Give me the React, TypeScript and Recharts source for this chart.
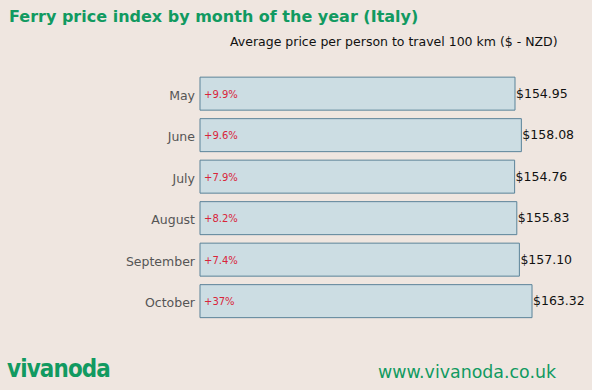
import { BarChart, Bar, XAxis, YAxis, LabelList } from 'recharts';

const months = ['May', 'June', 'July', 'August', 'September', 'October'];
const prices = [154.95, 158.08, 154.76, 155.83, 157.1, 163.32];
const changes = ['+9.9%', '+9.6%', '+7.9%', '+8.2%', '+7.4%', '+37%'];

const data = months.map((month, i) => ({ month, price: prices[i], change: changes[i] }));

const GREEN = '#119a61';
const FONT = '"DejaVu Sans", Verdana, sans-serif';

const PriceLabel = (props: any) => {
  const { x, y, width, height, value } = props;
  return (
    <text x={x + width + 1} y={y + height / 2} dy={4} fontSize={12.5} fill="#111" fontFamily={FONT}>
      ${Number(value).toFixed(2)}
    </text>
  );
};

const ChangeLabel = (props: any) => {
  const { x, y, height, value } = props;
  return (
    <text x={x + 4} y={y + height / 2} dy={4} fontSize={10} fill="#d9253a" fontFamily={FONT}>
      {value}
    </text>
  );
};

const MonthTick = (props: any) => {
  const { x, y, payload } = props;
  return (
    <text x={x} y={y} dy={6} textAnchor="end" fontSize={12.5} fill="#555" fontFamily={FONT}>
      {payload.value}
    </text>
  );
};

export default function App() {
  return (
    <div style={{ position: 'absolute', left: 0, top: 0, width: 592, height: 390, background: '#efe6e0', fontFamily: FONT }}>
      <div style={{ position: 'absolute', left: 9, top: 7, fontSize: 16, fontWeight: 'bold', color: GREEN }}>
        Ferry price index by month of the year (Italy)
      </div>
      <div style={{ position: 'absolute', left: 230, top: 34, fontSize: 12.5, color: '#111' }}>
        Average price per person to travel 100 km ($ - NZD)
      </div>
      <BarChart
        width={592}
        height={390}
        data={data}
        layout="vertical"
        margin={{ top: 73, right: 22, bottom: 68, left: 0 }}
        barCategoryGap="10%"
      >
        <XAxis type="number" domain={[0, 182]} hide />
        <YAxis
          type="category"
          dataKey="month"
          width={200}
          axisLine={false}
          tickLine={false}
          tickSize={0}
          tickMargin={5}
          tick={MonthTick}
        />
        <Bar dataKey="price" fill="#ccdde3" stroke="#5b8399" strokeWidth={1} isAnimationActive={false}>
          <LabelList dataKey="price" content={PriceLabel} />
          <LabelList dataKey="change" content={ChangeLabel} />
        </Bar>
      </BarChart>
      <div
        style={{
          position: 'absolute',
          left: 7,
          top: 354,
          fontSize: 25,
          fontWeight: 'bold',
          color: GREEN,
          letterSpacing: -1,
          transform: 'scaleX(0.86)',
          transformOrigin: 'left center',
        }}
      >
        vivanoda
      </div>
      <div style={{ position: 'absolute', left: 378, top: 362, fontSize: 17.4, color: GREEN }}>
        www.vivanoda.co.uk
      </div>
    </div>
  );
}
